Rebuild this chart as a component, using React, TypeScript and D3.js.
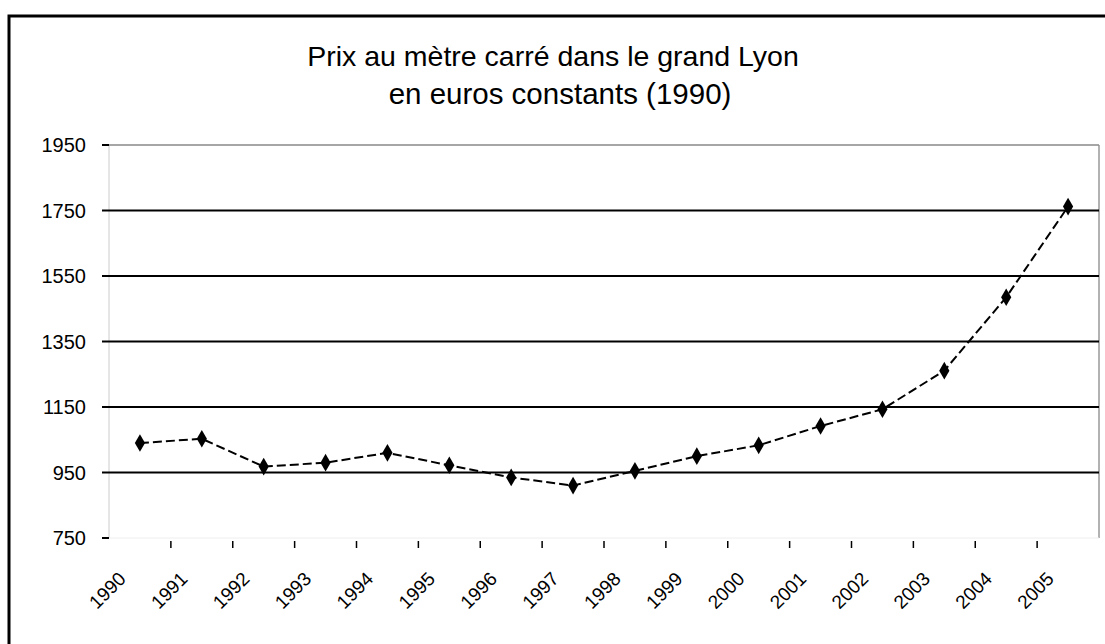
import React from "react";
import * as d3 from "d3";

const years = ["1990","1991","1992","1993","1994","1995","1996","1997","1998","1999","2000","2001","2002","2003","2004","2005"];
const prices = [1040, 1053, 968, 980, 1010, 972, 935, 910, 955, 1000, 1033, 1092, 1143, 1261, 1485, 1762];
const yTicks = [750, 950, 1150, 1350, 1550, 1750, 1950];
const titleLines = ["Prix au mètre carré dans le grand Lyon", "en euros constants (1990)"];

export default function App() {
  const W = 1105, H = 644;
  const left = 109, right = 1099, top = 145, bottom = 538;
  const x = d3.scaleBand<string>().domain(years).range([left, right]).padding(0);
  const y = d3.scaleLinear().domain([750, 1950]).range([bottom, top]);
  const cx = (yr: string) => (x(yr) as number) + x.bandwidth() / 2;
  const line = d3.line<number>()
    .x((_, i) => cx(years[i]))
    .y((v) => y(v));
  const diamond = d3.symbol().type(d3.symbolDiamond).size(90)();
  const font = "'Liberation Sans', Arial, sans-serif";
  return (
    <div style={{ position: "fixed", left: 0, top: 0, width: W, height: H, background: "#fff" }}>
      <svg width={W} height={H} style={{ display: "block" }}>
        <rect x={0} y={0} width={W} height={H} fill="#fff" />
        <path d={`M9,${H + 5} V16 H${W + 5}`} fill="none" stroke="#000" strokeWidth={3} />
        <text x={553} y={66} textAnchor="middle" fontFamily={font} fontSize={28.5} fill="#000">{titleLines[0]}</text>
        <text x={560} y={104} textAnchor="middle" fontFamily={font} fontSize={29.5} fill="#000">{titleLines[1]}</text>
        <line x1={left} x2={left} y1={top} y2={bottom} stroke="#ccc" strokeWidth={1} />
        <line x1={right} x2={right} y1={top} y2={bottom} stroke="#999" strokeWidth={1.5} />
        <line x1={left} x2={right} y1={bottom} y2={bottom} stroke="#eee" strokeWidth={1} />
        {yTicks.map((t) => (
          <g key={t}>
            {t !== 750 && (
              <line x1={left} x2={right} y1={y(t)} y2={y(t)} stroke={t === 1950 ? "#888" : "#000"} strokeWidth={t === 1950 ? 1.5 : 2} />
            )}
            <line x1={left - 7} x2={left} y1={y(t)} y2={y(t)} stroke="#000" strokeWidth={2} />
            <text x={86} y={y(t)} dy="0.35em" textAnchor="end" fontFamily={font} fontSize={20} fill="#000">{t}</text>
          </g>
        ))}
        {years.slice(1).map((yr) => (
          <line key={yr} x1={x(yr) as number} x2={x(yr) as number} y1={bottom + 3} y2={bottom + 10} stroke="#000" strokeWidth={1.5} />
        ))}
        {years.map((yr) => (
          <text key={yr} transform={`translate(${cx(yr) - 13},${bottom + 42}) rotate(-45)`} textAnchor="end" fontFamily={font} fontSize={19} fill="#000">{yr}</text>
        ))}
        <path d={line(prices) || ""} fill="none" stroke="#000" strokeWidth={2} strokeDasharray="9,4" />
        {prices.map((v, i) => (
          <path key={i} d={diamond || ""} transform={`translate(${cx(years[i])},${y(v)})`} fill="#000" />
        ))}
      </svg>
    </div>
  );
}
